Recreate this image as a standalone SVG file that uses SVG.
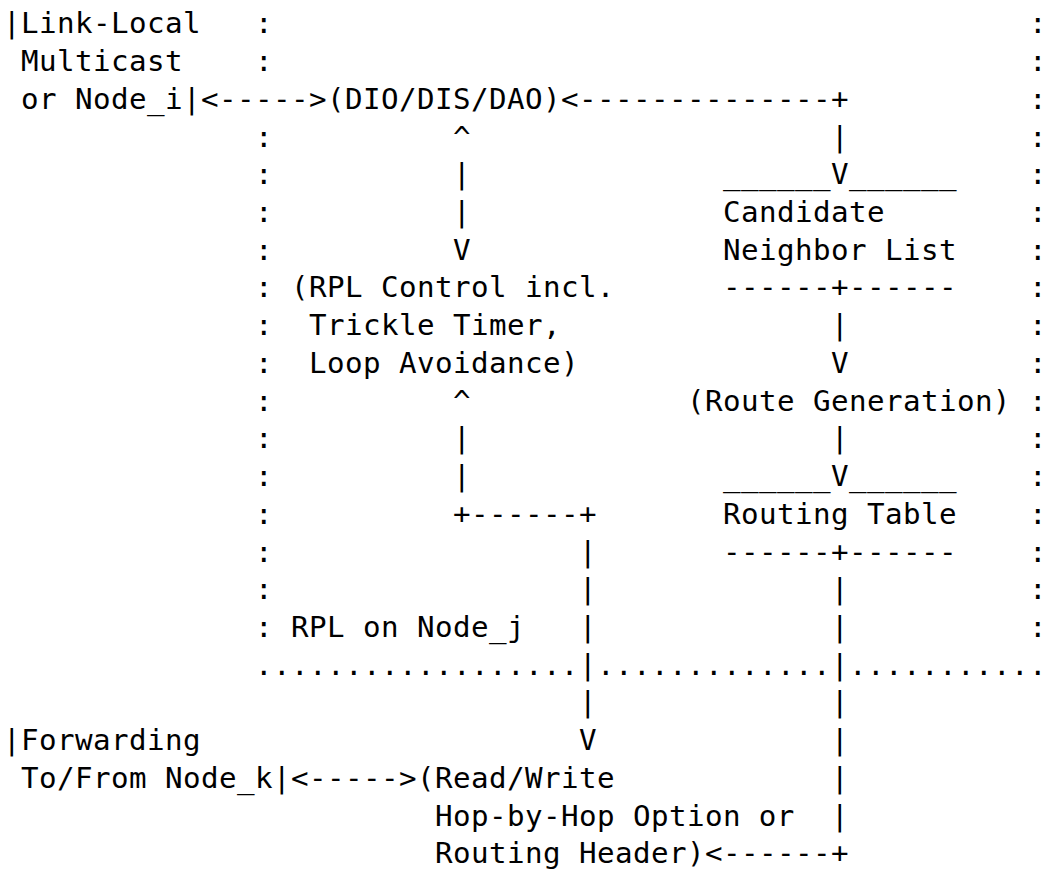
<svg xmlns="http://www.w3.org/2000/svg" width="1048" height="871" viewBox="0 0 1048 871">
<style>
text{font-family:"DejaVu Sans Mono","Liberation Mono",monospace;font-size:29.2px;letter-spacing:0.42px;fill:#000;white-space:pre}
</style>
<rect width="1048" height="871" fill="#fff"/>
<g id="boundary-rpl-node-j">
<text xml:space="preserve"><tspan x="255" y="33.3">:</tspan><tspan x="255" y="71.0">:</tspan><tspan x="255" y="146.5">:</tspan><tspan x="255" y="184.2">:</tspan><tspan x="255" y="222.0">:</tspan><tspan x="255" y="259.7">:</tspan><tspan x="255" y="297.4">:</tspan><tspan x="255" y="335.1">:</tspan><tspan x="255" y="372.9">:</tspan><tspan x="255" y="410.6">:</tspan><tspan x="255" y="448.3">:</tspan><tspan x="255" y="486.1">:</tspan><tspan x="255" y="523.8">:</tspan><tspan x="255" y="561.5">:</tspan><tspan x="255" y="599.3">:</tspan><tspan x="255" y="637.0">:</tspan></text>
<text xml:space="preserve"><tspan x="1029" y="33.3">:</tspan><tspan x="1029" y="71.0">:</tspan><tspan x="1029" y="108.8">:</tspan><tspan x="1029" y="146.5">:</tspan><tspan x="1029" y="184.2">:</tspan><tspan x="1029" y="222.0">:</tspan><tspan x="1029" y="259.7">:</tspan><tspan x="1029" y="297.4">:</tspan><tspan x="1029" y="335.1">:</tspan><tspan x="1029" y="372.9">:</tspan><tspan x="1029" y="410.6">:</tspan><tspan x="1029" y="448.3">:</tspan><tspan x="1029" y="486.1">:</tspan><tspan x="1029" y="523.8">:</tspan><tspan x="1029" y="561.5">:</tspan><tspan x="1029" y="599.3">:</tspan><tspan x="1029" y="637.0">:</tspan></text>
<text x="255" y="674.7">..................</text>
<text x="597" y="674.7">.............</text>
<text x="849" y="674.7">...........</text>
<text x="291" y="637.0">RPL on Node_j</text>
</g>
<g id="node-link-local">
<text x="3" y="33.3">|Link-Local</text>
<text x="21" y="71.0">Multicast</text>
<text x="21" y="108.8">or Node_i|</text>
</g>
<g id="node-dio-dis-dao">
<text x="327" y="108.8">(DIO/DIS/DAO)</text>
</g>
<g id="node-candidate-neighbor-list">
<text x="723" y="184.2">______V______</text>
<text x="723" y="222.0">Candidate</text>
<text x="723" y="259.7">Neighbor List</text>
<text x="723" y="297.4">------+------</text>
</g>
<g id="node-rpl-control">
<text x="291" y="297.4">(RPL Control incl.</text>
<text x="309" y="335.1">Trickle Timer,</text>
<text x="309" y="372.9">Loop Avoidance)</text>
</g>
<g id="node-route-generation">
<text x="687" y="410.6">(Route Generation)</text>
</g>
<g id="node-routing-table">
<text x="723" y="486.1">______V______</text>
<text x="723" y="523.8">Routing Table</text>
<text x="723" y="561.5">------+------</text>
</g>
<g id="node-forwarding">
<text x="3" y="750.2">|Forwarding</text>
<text x="21" y="787.9">To/From Node_k|</text>
</g>
<g id="node-read-write">
<text x="417" y="787.9">(Read/Write</text>
<text x="435" y="825.6">Hop-by-Hop Option or</text>
<text x="435" y="863.4">Routing Header)</text>
</g>
<g id="connectors">
<text x="201" y="108.8">&lt;-----&gt;</text>
<text x="561" y="108.8">&lt;--------------+</text>
<text x="453" y="146.5">^</text>
<text x="831" y="146.5">|</text>
<text x="453" y="184.2">|</text>
<text x="453" y="222.0">|</text>
<text x="453" y="259.7">V</text>
<text x="831" y="335.1">|</text>
<text x="831" y="372.9">V</text>
<text x="453" y="410.6">^</text>
<text x="453" y="448.3">|</text>
<text x="831" y="448.3">|</text>
<text x="453" y="486.1">|</text>
<text x="453" y="523.8">+------+</text>
<text x="579" y="561.5">|</text>
<text x="579" y="599.3">|</text>
<text x="831" y="599.3">|</text>
<text x="579" y="637.0">|</text>
<text x="831" y="637.0">|</text>
<text x="579" y="674.7">|</text>
<text x="831" y="674.7">|</text>
<text x="579" y="712.4">|</text>
<text x="831" y="712.4">|</text>
<text x="579" y="750.2">V</text>
<text x="831" y="750.2">|</text>
<text x="291" y="787.9">&lt;-----&gt;</text>
<text x="831" y="787.9">|</text>
<text x="831" y="825.6">|</text>
<text x="705" y="863.4">&lt;------+</text>
</g>
</svg>
